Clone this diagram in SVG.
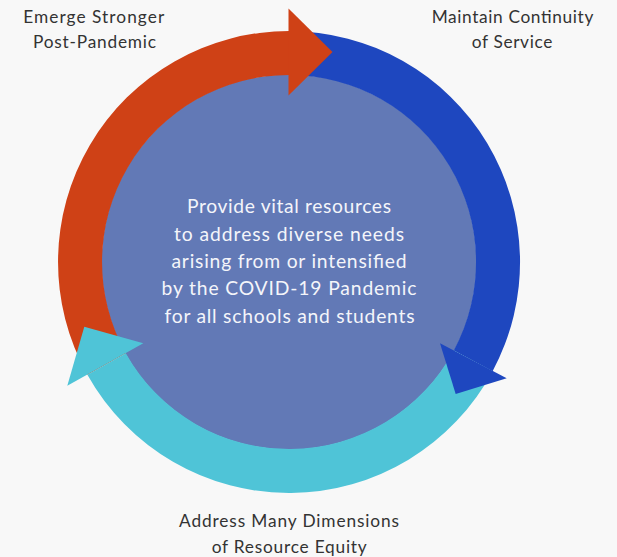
<svg xmlns="http://www.w3.org/2000/svg" width="617" height="557" viewBox="0 0 617 557">
<style>
.lbl{font-family:Lato,"Open Sans","Liberation Sans",sans-serif;font-size:17.3px;fill:#333333;text-anchor:middle}
.ctr{font-family:Lato,"Open Sans","Liberation Sans",sans-serif;font-size:19.3px;fill:#f4f5fa;text-anchor:middle}
.red{fill:#cf4116}
.blue{fill:#1e47bf}
.cyan{fill:#4fc4d7}
</style>
<rect x="0" y="0" width="617" height="557" fill="#f8f8f8"/>
<g id="center">
<circle cx="289" cy="262" r="187.5" fill="#6279b6"/>
<text class="ctr" x="289" y="213.3" textLength="204">Provide vital resources</text>
<text class="ctr" x="289" y="240.7" textLength="230">to address diverse needs</text>
<text class="ctr" x="289" y="268" textLength="235">arising from or intensified</text>
<text class="ctr" x="289" y="295.3" textLength="255">by the COVID-19 Pandemic</text>
<text class="ctr" x="289.5" y="322.7" textLength="250">for all schools and students</text>
</g>
<g id="connectors">
<path class="red" d="M87.4 374.7 A231 231 0 0 1 289.5 31 L289.5 75 A187 187 0 0 0 125.8 353.2 Z"/>
<path class="blue" d="M289 31 A231 231 0 0 1 492.6 371.2 L453.8 350.4 A187 187 0 0 0 289 75 Z"/>
<path class="cyan" d="M492.6 371.2 A231 231 0 0 1 87.4 374.7 L125.8 353.2 A187 187 0 0 0 453.8 350.4 Z"/>
<polygon class="red" points="288.5,8.5 332.5,52 288.5,95.5"/>
<polygon class="blue" points="440,343.3 506.7,378.3 455.7,394"/>
<polygon class="cyan" points="67.3,385.7 84.3,326.7 143.3,343.3"/>
</g>
<g id="label-emerge">
<text class="lbl" x="93.7" y="22.7" textLength="141">Emerge Stronger</text>
<text class="lbl" x="94.5" y="47.7" textLength="123">Post-Pandemic</text>
</g>
<g id="label-maintain">
<text class="lbl" x="512.5" y="22.7" textLength="161.6">Maintain Continuity</text>
<text class="lbl" x="512" y="47.7" textLength="80.6">of Service</text>
</g>
<g id="label-address">
<text class="lbl" x="289" y="527.3" textLength="220">Address Many Dimensions</text>
<text class="lbl" x="289.2" y="553" textLength="155">of Resource Equity</text>
</g>
</svg>
